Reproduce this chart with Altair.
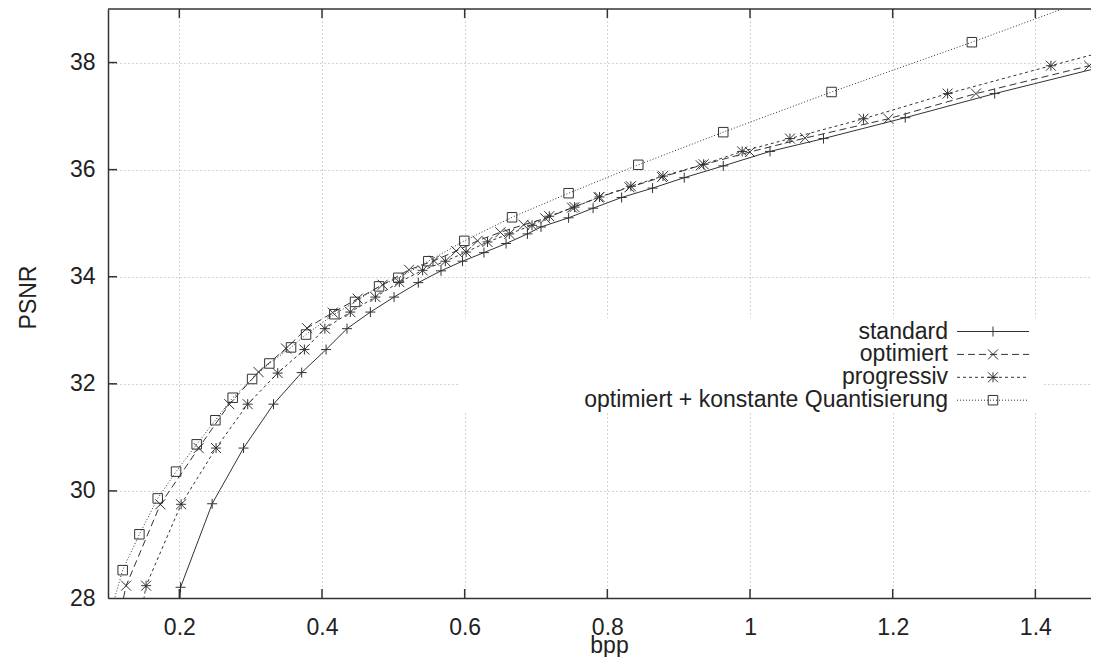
import altair as alt
import pandas as pd

# ---------------- data ----------------
standard_x = [0.196, 0.2017, 0.246, 0.290, 0.332, 0.3715, 0.4057, 0.435, 0.4678, 0.501, 0.535,
              0.5668, 0.597, 0.627, 0.658, 0.688, 0.707, 0.7457, 0.780, 0.820, 0.8634, 0.9078,
              0.9625, 1.028, 1.103, 1.2176, 1.343, 1.50]
standard_y = [26.5, 28.2, 29.76, 30.80, 31.62, 32.21, 32.64, 33.03, 33.34, 33.62, 33.89,
              34.11, 34.29, 34.45, 34.62, 34.80, 34.93, 35.10, 35.28, 35.48, 35.655, 35.85,
              36.07, 36.34, 36.58, 36.97, 37.42, 37.94]

optimiert_x = [0.112, 0.1254, 0.1734, 0.2271, 0.270, 0.311, 0.3496, 0.379, 0.415, 0.450, 0.485,
               0.522, 0.557, 0.588, 0.618, 0.650, 0.6826, 0.713, 0.7505, 0.7877, 0.831, 0.8766,
               0.931, 0.9999, 1.0773, 1.194, 1.3167, 1.4755]
optimiert_y = [27.4, 28.23, 29.75, 30.80, 31.62, 32.22, 32.66, 33.04, 33.33, 33.59, 33.85,
               34.13, 34.30, 34.48, 34.67, 34.83, 34.97, 35.09, 35.29, 35.48, 35.67, 35.86,
               36.08, 36.33, 36.59, 36.95, 37.42, 37.94]

progressiv_x = [0.14, 0.1534, 0.2025, 0.2515, 0.2958, 0.3379, 0.3753, 0.404, 0.4397, 0.4748, 0.5084,
                0.541, 0.5729, 0.602, 0.632, 0.6626, 0.6944, 0.7186, 0.754, 0.789, 0.833, 0.878,
                0.935, 0.989, 1.056, 1.159, 1.277, 1.4218, 1.58]
progressiv_y = [27.2, 28.23, 29.75, 30.80, 31.62, 32.20, 32.64, 33.03, 33.34, 33.62, 33.90,
                34.12, 34.29, 34.46, 34.65, 34.80, 34.96, 35.13, 35.30, 35.49, 35.69, 35.88,
                36.10, 36.34, 36.58, 36.95, 37.42, 37.94, 38.5]

konst_x = [0.105, 0.1206, 0.144, 0.1697, 0.1954, 0.2243, 0.2505, 0.2748, 0.302, 0.3262, 0.3566,
           0.3776, 0.4173, 0.4463, 0.48, 0.507, 0.549, 0.5995, 0.6664, 0.7457, 0.8434, 0.9625,
           1.1143, 1.311, 1.53]
konst_y = [27.8, 28.52, 29.19, 29.86, 30.36, 30.87, 31.32, 31.74, 32.09, 32.38, 32.68,
           32.92, 33.30, 33.53, 33.82, 33.98, 34.29, 34.67, 35.11, 35.56, 36.09, 36.70,
           37.45, 38.38, 39.45]

series_names = ["standard", "optimiert", "progressiv", "optimiert + konstante Quantisierung"]
x_ticks = [0.2, 0.4, 0.6, 0.8, 1.0, 1.2, 1.4]
y_ticks = [28, 30, 32, 34, 36, 38]

# ---------------- styling ----------------
W, H = 983, 589
FONT = "Liberation Sans"
INK = "#333333"
TXT = "#222222"
TICK = 9

PLUS = "M-1,0L1,0M0,-1L0,1"
CROSS = "M-1,-1L1,1M-1,1L1,-1"
STAR = "M-1,0L1,0M0,-1L0,1M-1,-1L1,1M-1,1L1,-1"

styles = [
    dict(dash=None, shape=PLUS, size=100),
    dict(dash=[7, 4], shape=CROSS, size=100),
    dict(dash=[3, 3], shape=STAR, size=100),
    dict(dash=[1, 2], shape="square", size=90),
]
series_data = [(standard_x, standard_y), (optimiert_x, optimiert_y),
               (progressiv_x, progressiv_y), (konst_x, konst_y)]

x_scale = alt.Scale(domain=[0.1, 1.478], nice=False, zero=False)
y_scale = alt.Scale(domain=[28, 39], nice=False, zero=False)

common_axis = dict(grid=True, gridColor="#a8a8a8", gridDash=[1, 3], gridWidth=1,
                   ticks=False, tickSize=0, domain=True, domainColor=INK, domainWidth=1.5,
                   labelFont=FONT, labelFontSize=23, labelColor=TXT, labelFlush=False,
                   labelOverlap=False, titleFont=FONT, titleFontSize=23,
                   titleFontWeight="normal", titleColor=TXT)
x_axis = alt.Axis(values=x_ticks, format="~g", title="bpp", labelPadding=18,
                  titleX=501, titleY=36, titleBaseline="top", **common_axis)
y_axis = alt.Axis(values=y_ticks, format="d", title="PSNR", labelPadding=13,
                  titlePadding=29, titleY=288, **common_axis)


def X(field):
    return alt.X(f"{field}:Q", scale=x_scale, axis=x_axis)


def Y(field):
    return alt.Y(f"{field}:Q", scale=y_scale, axis=y_axis)


one = pd.DataFrame({"a": [0]})

layers = []

# legend background (opaque key box)
layers.append(alt.Chart(one).mark_rect(fill="white").encode(
    x=alt.value(352), x2=alt.value(935), y=alt.value(309), y2=alt.value(403)))

# data series
for (sx, sy), st in zip(series_data, styles):
    df = pd.DataFrame({"x": sx, "y": sy, "i": list(range(len(sx)))})
    line_kw = dict(clip=True, color=INK, strokeWidth=1)
    if st["dash"]:
        line_kw["strokeDash"] = st["dash"]
    layers.append(alt.Chart(df).mark_line(**line_kw).encode(
        x=X("x"), y=Y("y"), order=alt.Order("i:Q")))
    layers.append(alt.Chart(df).mark_point(
        shape=st["shape"], filled=False, size=st["size"], color=INK,
        strokeWidth=1, opacity=1, clip=True).encode(x=X("x"), y=Y("y")))

# inward tick marks and top border (gnuplot style)
xt = pd.DataFrame({"t": x_ticks})
yt = pd.DataFrame({"t": y_ticks[1:]})
layers.append(alt.Chart(xt).mark_rule(color=INK, strokeWidth=1.5).encode(
    x=X("t"), y=alt.value(H), y2=alt.value(H - TICK)))
layers.append(alt.Chart(xt).mark_rule(color=INK, strokeWidth=1.5).encode(
    x=X("t"), y=alt.value(0), y2=alt.value(TICK)))
layers.append(alt.Chart(yt).mark_rule(color=INK, strokeWidth=1.5).encode(
    y=Y("t"), x=alt.value(0), x2=alt.value(TICK)))
layers.append(alt.Chart(one).mark_rule(color=INK, strokeWidth=1.5).encode(
    y=alt.value(0), x=alt.value(0), x2=alt.value(W)))

# legend entries (label left, sample line + marker right)
row0, row_step = 322.5, 22.9
for k, (name, st) in enumerate(zip(series_names, styles)):
    py = row0 + k * row_step
    lab = pd.DataFrame({"name": [name]})
    layers.append(alt.Chart(lab).mark_text(
        align="right", baseline="middle", font=FONT, fontSize=23, color=TXT).encode(
        x=alt.value(840), y=alt.value(py), text="name:N"))
    rule_kw = dict(color=INK, strokeWidth=1)
    if st["dash"]:
        rule_kw["strokeDash"] = st["dash"]
    layers.append(alt.Chart(lab).mark_rule(**rule_kw).encode(
        x=alt.value(849), x2=alt.value(921), y=alt.value(py)))
    layers.append(alt.Chart(lab).mark_point(
        shape=st["shape"], filled=False, size=st["size"], color=INK,
        strokeWidth=1, opacity=1).encode(x=alt.value(885), y=alt.value(py)))

chart = alt.layer(*layers).properties(
    width=W, height=H,
    padding={"left": 100, "top": 1, "right": 0, "bottom": 62},
    autosize=alt.AutoSizeParams(type="none"),
).configure_view(stroke=None)

chart.save("out.html", embed_options={"renderer": "svg", "actions": False})
